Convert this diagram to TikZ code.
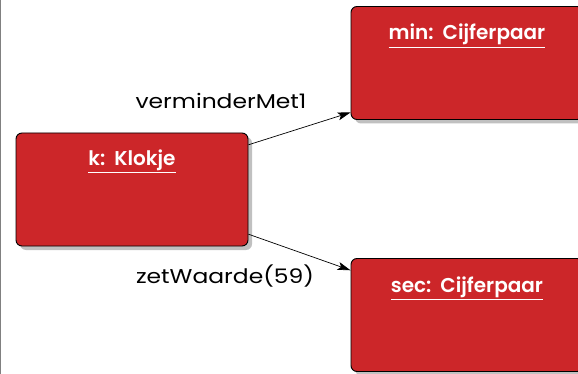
\documentclass[tikz,border=0pt]{standalone}
\usepackage{fontspec}
\setmainfont{Poppins}
\newfontfamily\msgfont[FakeStretch=1.17]{Poppins}
\newfontfamily\titlefont{Poppins SemiBold}
\usetikzlibrary{arrows.meta,shadows,calc}
\definecolor{objred}{RGB}{204,38,41}
\definecolor{shadowgray}{RGB}{192,192,192}
\tikzset{
  objbox/.style={draw=black, line width=0.9pt, fill=objred, rounded corners=6pt,
    minimum width=232pt, minimum height=113pt, inner sep=0pt,
    drop shadow={shadow xshift=4pt, shadow yshift=-4pt, fill=shadowgray, opacity=1}},
  objtitle/.style={text=white, font=\titlefont\fontsize{20}{24}\selectfont, inner sep=0pt, anchor=base},
  titleline/.style={draw=white, line width=0.9pt},
  msg/.style={-{Stealth[length=13pt,width=8pt,inset=3pt]}, line width=0.7pt, draw=black},
  msglabel/.style={font=\msgfont\fontsize{20}{24}\selectfont, inner sep=0pt, anchor=base, text=black},
}
\newcommand{\objgap}{\hspace{0.45em}}
\begin{document}
\begin{tikzpicture}[x=1pt, y=-1pt]
  \clip (0,0) rectangle (578,374);
  \fill[white] (0,0) rectangle (578,374);
  \draw[gray, line width=1.2pt] (0.6,0) -- (0.6,374);

  % objects
  \node[objbox] (k) at (132,189.5) {};
  \node[objbox] (min) at (467,63) {};
  \node[objbox] (sec) at (467,315) {};

  % object titles, underlined
  \node[objtitle] (kt) at (132,166) {k:\objgap Klokje};
  \draw[titleline] ($(kt.base west)+(0,6.5)$) -- ($(kt.base east)+(0,6.5)$);
  \node[objtitle] (mint) at (467,39.5) {min:\objgap Cijferpaar};
  \draw[titleline] ($(mint.base west)+(0,7.5)$) -- ($(mint.base east)+(0,7.5)$);
  \node[objtitle] (sect) at (467,292.5) {sec:\objgap Cijferpaar};
  \draw[titleline] ($(sect.base west)+(0,6.5)$) -- ($(sect.base east)+(0,6.5)$);

  % messages
  \draw[msg] (k.21) -- (min.203);
  \draw[msg] (k.339) -- (sec.159);
  \node[msglabel] (l1) at (221,109) {verminderMet1};
  \node[msglabel] (l2) at (225,283) {zetWaarde(59)};
\end{tikzpicture}
\end{document}
